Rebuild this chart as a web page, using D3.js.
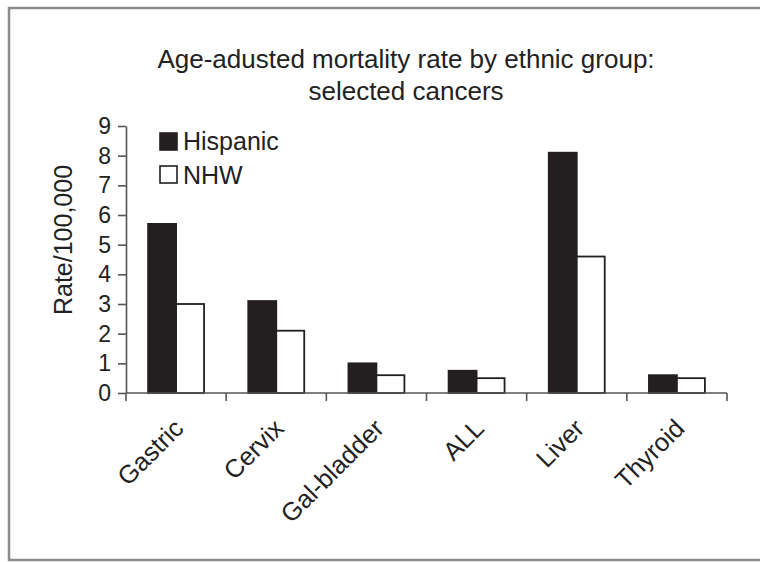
<!DOCTYPE html>
<html><head><meta charset="utf-8">
<script src="https://cdn.jsdelivr.net/npm/d3@7"></script>
<style>
html,body{margin:0;padding:0;background:#fff;}
text{font-family:"Liberation Sans",Arial,Helvetica,sans-serif;fill:#222;}
</style></head>
<body>
<svg id="chart" width="760" height="562"></svg>
<script>
const categories = ["Gastric","Cervix","Gal-bladder","ALL","Liver","Thyroid"];
const series = ["Hispanic","NHW"];
const hispanic = [5.7,3.1,1.0,0.75,8.1,0.6];
const nhw = [3.0,2.1,0.6,0.5,4.6,0.5];
const yTicks = [0,1,2,3,4,5,6,7,8,9];
const titleLines = ["Age-adusted mortality rate by ethnic group:","selected cancers"];
const yTitle = "Rate/100,000";

const values = {Hispanic: hispanic, NHW: nhw};
const fills = {Hispanic: "#231f20", NHW: "#ffffff"};

const svg = d3.select("#chart");
// frame
svg.append("path")
  .attr("d","M 770 8 L 9 8 L 9 560 L 770 560")
  .attr("fill","none").attr("stroke","#8c8c8c").attr("stroke-width",2.5);

const pLeft = 126, pRight = 727, pTop = 126, pBottom = 393;
const x0 = d3.scaleBand().domain(categories).range([pLeft,pRight]).paddingInner(0).paddingOuter(0);
const x1 = d3.scaleBand().domain(series).range([0,x0.bandwidth()]).paddingInner(0).paddingOuter(0.79);
const y = d3.scaleLinear().domain([0,9]).range([pBottom,pTop]);

// title
svg.append("text").attr("x",406).attr("text-anchor","middle").style("font-size","26px")
  .selectAll("tspan").data(titleLines).join("tspan")
  .attr("x",406).attr("y",(d,i)=>68+i*32).text(d=>d);

// bars
const g = svg.append("g");
categories.forEach((c,ci)=>{
  series.forEach(s=>{
    const v = values[s][ci];
    g.append("rect")
      .attr("x", x0(c)+x1(s)).attr("width", x1.bandwidth())
      .attr("y", y(v)).attr("height", y(0)-y(v))
      .attr("fill", fills[s]).attr("stroke","#231f20").attr("stroke-width",1.8);
  });
});

// y axis
const yAxis = d3.axisLeft(y).tickValues(yTicks).tickSize(8).tickSizeOuter(0).tickPadding(7);
const ya = svg.append("g").attr("transform",`translate(${pLeft},0)`).call(yAxis);
ya.select(".domain").attr("stroke","#555").attr("stroke-width",1.6);
ya.selectAll(".tick line").attr("stroke","#555").attr("stroke-width",1.6);
ya.selectAll(".tick text").style("font-size","23px").attr("fill","#222")
  .style("font-family","'Liberation Sans',Arial,sans-serif");

// x axis: ticks at category boundaries
const bounds = categories.map(c=>x0(c)).concat([pRight]);
svg.append("line").attr("x1",pLeft).attr("x2",pRight).attr("y1",pBottom).attr("y2",pBottom)
  .attr("stroke","#555").attr("stroke-width",1.6);
svg.append("g").selectAll("line").data(bounds).join("line")
  .attr("x1",d=>d).attr("x2",d=>d).attr("y1",pBottom).attr("y2",pBottom+8)
  .attr("stroke","#555").attr("stroke-width",1.6);
svg.append("g").selectAll("text").data(categories).join("text")
  .attr("transform",d=>`translate(${x0(d)+x0.bandwidth()/2+9},430) rotate(-45)`)
  .attr("text-anchor","end").style("font-size","25.5px").text(d=>d);

// y title
svg.append("text").attr("transform","translate(72,240) rotate(-90)")
  .attr("text-anchor","middle").style("font-size","25px").text(yTitle);

// legend
const leg = svg.append("g");
series.forEach((s,i)=>{
  leg.append("rect").attr("x",160).attr("y",133+i*33).attr("width",17).attr("height",17)
    .attr("fill",fills[s]).attr("stroke","#231f20").attr("stroke-width",1.6);
  leg.append("text").attr("x",183).attr("y",150+i*34).style("font-size","25px").text(s);
});
</script>
</body></html>
